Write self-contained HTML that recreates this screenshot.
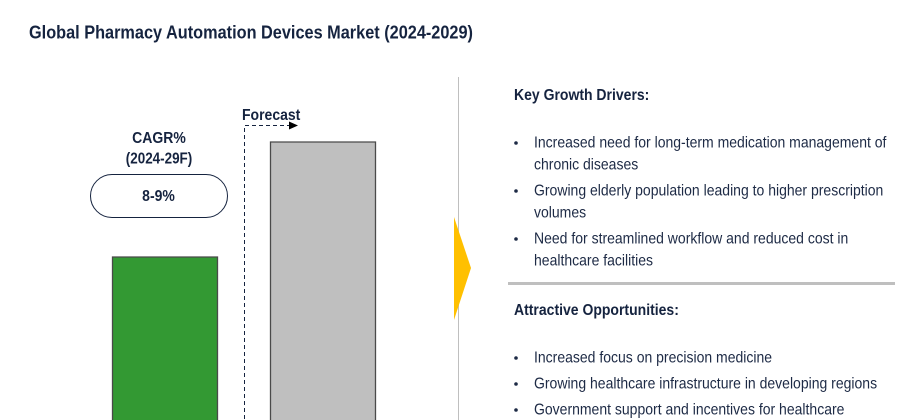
<!DOCTYPE html>
<html>
<head>
<meta charset="utf-8">
<style>
html,body{margin:0;padding:0;background:#fff;width:913px;height:420px;overflow:hidden}
svg{display:block;font-family:"Liberation Sans",sans-serif}
.b{font-weight:bold;fill:#15233f}
.t{fill:#1d2a45;font-size:14px}
</style>
</head>
<body>
<svg id="chart" width="913" height="420" viewBox="0 0 913 420">
<text class="b" transform="translate(29 38.500) scale(1 1.120)" font-size="16.300">Global Pharmacy Automation Devices Market (2024-2029)</text>
<g id="bars"></g>
<path d="M244.500 419V125.500H290" fill="none" stroke="#15233f" stroke-width="1" stroke-dasharray="4 3"/>
<polygon points="289,121.500 298,125.500 289,129.500" fill="#000"/>
<text class="b" transform="translate(242 120) scale(1 1.120)" font-size="14">Forecast</text>
<text class="b" transform="translate(159 143) scale(1 1.120)" font-size="14" text-anchor="middle">CAGR%</text>
<text class="b" transform="translate(159 163.500) scale(0.960 1.120)" font-size="14" text-anchor="middle">(2024-29F)</text>
<rect x="90.500" y="174.500" width="137" height="43" rx="21.500" fill="#fff" stroke="#15233f" stroke-width="1"/>
<text class="b" transform="translate(158.500 201) scale(1 1.120)" font-size="14" text-anchor="middle">8-9%</text>
<line x1="458.500" y1="77" x2="458.500" y2="420" stroke="#bfbfbf" stroke-width="1"/>
<polygon points="454,217 471,268 454,320" fill="#ffc000"/>

<text class="b" transform="translate(514 100) scale(1 1.120)" font-size="14">Key Growth Drivers:</text>
<g>
<circle cx="516" cy="143" r="1.800" fill="#1d2a45"/>
<text class="t" transform="translate(534 147.700) scale(1 1.120)">Increased need for long-term medication management of</text>
<text class="t" transform="translate(534 169.700) scale(1 1.120)">chronic diseases</text>
<circle cx="516" cy="191" r="1.800" fill="#1d2a45"/>
<text class="t" transform="translate(534 195.700) scale(1 1.120)">Growing elderly population leading to higher prescription</text>
<text class="t" transform="translate(534 217.700) scale(1 1.120)">volumes</text>
<circle cx="516" cy="239" r="1.800" fill="#1d2a45"/>
<text class="t" transform="translate(534 243.700) scale(1 1.120)">Need for streamlined workflow and reduced cost in</text>
<text class="t" transform="translate(534 265.700) scale(1 1.120)">healthcare facilities</text>
</g>
<rect x="508" y="282" width="387" height="3" fill="#bfbfbf"/>
<text class="b" transform="translate(514 315) scale(1 1.120)" font-size="14">Attractive Opportunities:</text>
<g>
<circle cx="516" cy="358" r="1.800" fill="#1d2a45"/>
<text class="t" transform="translate(534 362.700) scale(1 1.120)">Increased focus on precision medicine</text>
<circle cx="516" cy="384" r="1.800" fill="#1d2a45"/>
<text class="t" transform="translate(534 388.700) scale(1 1.120)">Growing healthcare infrastructure in developing regions</text>
<circle cx="516" cy="410" r="1.800" fill="#1d2a45"/>
<text class="t" transform="translate(534 414.700) scale(1 1.120)">Government support and incentives for healthcare</text>
</g>
</svg>
<script>
const categories = ['2024', '2029F'];
const seriesValues = [100, 150];
const barColors = ['#339933', '#bfbfbf'];

const FRAME_BOTTOM = 420;
function xScale(index) { return 112.5 + index * 158; }
function yScale(value) { return 487 - value * 2.3; }
const NS = 'http://www.w3.org/2000/svg';
const group = document.getElementById('bars');
categories.forEach(function (category, i) {
  const top = yScale(seriesValues[i]);
  const bar = document.createElementNS(NS, 'path');
  // Bars are cropped by the frame, so the path stays open along the bottom edge.
  bar.setAttribute('d', 'M' + xScale(i) + ' ' + FRAME_BOTTOM + 'V' + top + 'H' + (xScale(i) + 105) + 'V' + FRAME_BOTTOM);
  bar.setAttribute('fill', barColors[i]);
  bar.setAttribute('stroke', '#4a4a4a');
  bar.setAttribute('stroke-width', 1.3);
  
  
  group.appendChild(bar);
});
</script>
</body>
</html>
